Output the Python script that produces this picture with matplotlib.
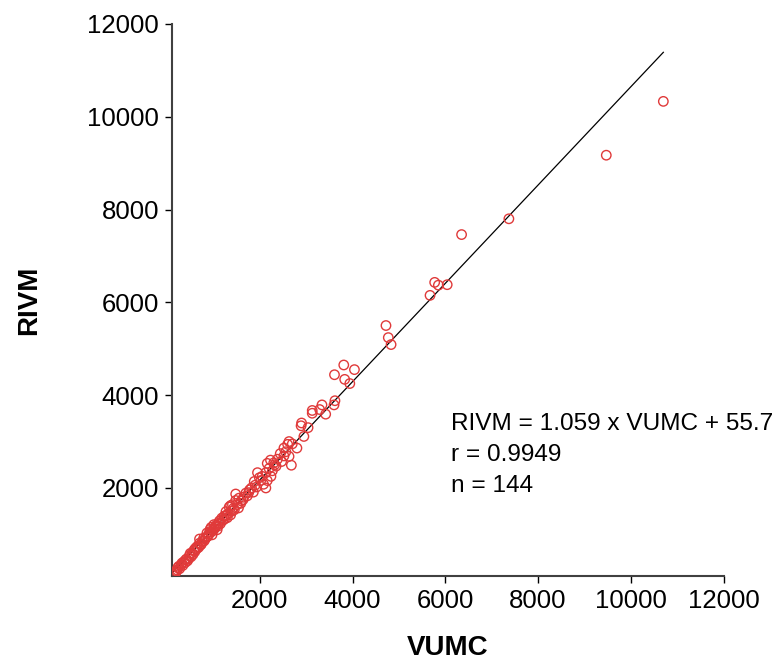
import numpy as np
import matplotlib
matplotlib.use("Agg")
import matplotlib.pyplot as plt

plt.rcParams['font.family'] = ['Liberation Sans', 'DejaVu Sans']

vumc = [10700, 9470, 7370, 6350, 5770, 5850, 6040, 5670, 4720, 4770, 4830,
        3810, 4040, 3610, 3830, 3940, 3620, 3600, 3340, 3130, 3290, 3130, 3420,
        2900, 2890, 3040, 2950, 2630, 2600, 2520, 2800,
        2440, 2520, 2630, 2380, 2470, 2680, 2160, 2320, 2270, 1950, 2130, 2240,
        2160, 2020, 1880, 2080, 1930, 2130, 1860, 1700, 1480, 1550, 1730, 1640,
        1480, 1590, 1410, 1340, 1450, 1270, 1370, 1230,
        1510, 1370, 1540, 1290, 1180, 1110, 1010, 930, 1080, 860, 970, 790,
        720, 650, 580, 500, 470, 400, 320, 250, 220, 180,
        120, 150, 200, 230, 270, 300, 340, 360, 390, 420, 440, 480, 520, 540,
        560, 600, 610, 640, 680, 700, 740, 760, 800, 820, 850, 880, 900, 920,
        950, 990, 1020, 1040, 1060, 1100, 1130, 1150, 1200, 1240, 1260, 1300,
        1320, 1400, 1430, 1600, 1650, 1780, 1820, 1900, 1990, 2050, 2200, 2300,
        2350, 2560, 2700, 2230, 1760, 950, 700]
rivm = [10330, 9170, 7800, 7460, 6430, 6370, 6380, 6150, 5500, 5240, 5090,
        4650, 4550, 4440, 4340, 4250, 3880, 3790, 3790, 3670, 3690, 3610, 3590,
        3400, 3340, 3300, 3110, 3000, 2940, 2860, 2860,
        2740, 2690, 2680, 2620, 2570, 2490, 2530, 2500, 2370, 2330, 2330, 2250,
        2160, 2160, 2140, 2080, 2020, 2000, 1910, 1890, 1870, 1780, 1830, 1750,
        1730, 1670, 1640, 1590, 1530, 1490, 1420, 1390,
        1640, 1620, 1570, 1420, 1350, 1240, 1210, 1110, 1100, 1030, 990, 920,
        770, 740, 660, 590, 480, 450, 380, 310, 230, 160,
        140, 190, 210, 280, 260, 340, 330, 410, 390, 470, 430, 540, 520, 600,
        570, 630, 700, 690, 720, 810, 790, 850, 860, 900, 940, 960, 1000, 1060,
        1050, 1080, 1120, 1160, 1200, 1180, 1290, 1230, 1300, 1330, 1400, 1360,
        1450, 1500, 1560, 1720, 1800, 1960, 2000, 2060, 2220, 2250, 2420, 2540,
        2470, 2780, 2950, 2600, 1900, 1150, 900]

slope = 1.059
intercept = 55.7
fit_text = ["RIVM = 1.059 x VUMC + 55.7", "r = 0.9949", "n = 144"]
ticks = [2000, 4000, 6000, 8000, 10000, 12000]

fig = plt.figure(figsize=(7.84, 6.63), dpi=100)
ax = fig.add_axes([0.219, 0.131, 0.704, 0.833])

ax.scatter(vumc, rivm, s=46, facecolors='none', edgecolors='#e03a3a',
           linewidths=1.0, zorder=3)

xl = np.array([min(vumc), max(vumc)])
ax.plot(xl, slope * xl + intercept, color='black', lw=0.9, zorder=2)

ax.set_xlim(100, 12000)
ax.set_ylim(100, 12000)
ax.set_xticks(ticks)
ax.set_yticks(ticks)
ax.tick_params(direction='out', length=5, width=1, labelsize=18.5, pad=4)

for s in ['top', 'right']:
    ax.spines[s].set_visible(False)
for s in ['left', 'bottom']:
    ax.spines[s].set_linewidth(1.5)
    ax.spines[s].set_color('#404040')

ax.set_xlabel("VUMC", fontsize=20, fontweight='bold')
ax.set_ylabel("RIVM", fontsize=20, fontweight='bold')
ax.xaxis.set_label_coords(0.5, -0.107)
ax.yaxis.set_label_coords(-0.235, 0.5)

for txt, yv in zip(fit_text, [3250, 2580, 1910]):
    ax.text(6130, yv, txt, fontsize=17.6, va='baseline', ha='left', clip_on=False)

fig.savefig("out.png", dpi=100)
